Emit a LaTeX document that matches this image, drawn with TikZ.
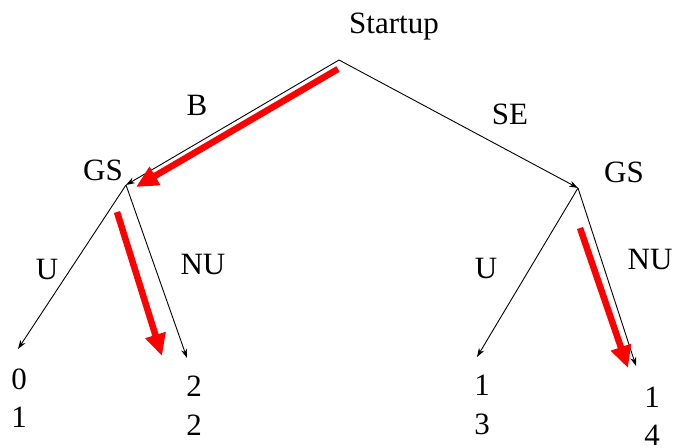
\documentclass[tikz,border=0pt]{standalone}
\usepackage{fontspec}
\setmainfont{Liberation Serif}
\usetikzlibrary{arrows.meta}
\begin{document}
\begin{tikzpicture}[x=1pt,y=-1pt,
  lbl/.style={anchor=base,inner sep=0pt,font=\fontsize{31}{31}\selectfont},
  edge/.style={line width=0.9pt,-{Stealth[length=9pt,width=6pt]}},
  play/.style={line width=6.5pt,red,-{Triangle[length=22pt,width=20pt]}}]
\useasboundingbox (0,0) rectangle (674,447);
% tree vertices
\coordinate (root) at (339,60);
\coordinate (gsL) at (126,185);
\coordinate (gsR) at (578,188);
\coordinate (lU) at (18,349);
\coordinate (lNU) at (187,358);
\coordinate (rU) at (477,357);
\coordinate (rNU) at (636,366);
% red arrow ends
\coordinate (r1s) at (338,69);
\coordinate (r1e) at (136,187);
\coordinate (r2s) at (117,212);
\coordinate (r2e) at (162,356);
\coordinate (r3s) at (580,228);
\coordinate (r3e) at (628,368);
% labels
\node[lbl] (start) at (394,33) {Startup};
\node[lbl] (b) at (197,115) {B};
\node[lbl] (se) at (510,124) {SE};
\node[lbl] (gsLt) at (103,180) {GS};
\node[lbl] (gsRt) at (624,182) {GS};
\node[lbl] (uL) at (47,279) {U};
\node[lbl] (nuL) at (203,274) {NU};
\node[lbl] (uR) at (486,278) {U};
\node[lbl] (nuR) at (650,269) {NU};
\node[lbl] (p1a) at (19,389) {0};
\node[lbl] (p1b) at (19,427) {1};
\node[lbl] (p2a) at (194,396) {2};
\node[lbl] (p2b) at (194,435) {2};
\node[lbl] (p3a) at (482,395) {1};
\node[lbl] (p3b) at (482,434) {3};
\node[lbl] (p4a) at (652,407) {1};
\node[lbl] (p4b) at (652,445) {4};
% edges
\draw[edge] (root) -- (gsL);
\draw[edge] (root) -- (gsR);
\draw[edge] (gsL) -- (lU);
\draw[edge] (gsL) -- (lNU);
\draw[edge] (gsR) -- (rU);
\draw[edge] (gsR) -- (rNU);
% equilibrium path
\draw[play] (r1s) -- (r1e);
\draw[play] (r2s) -- (r2e);
\draw[play] (r3s) -- (r3e);
\end{tikzpicture}
\end{document}
